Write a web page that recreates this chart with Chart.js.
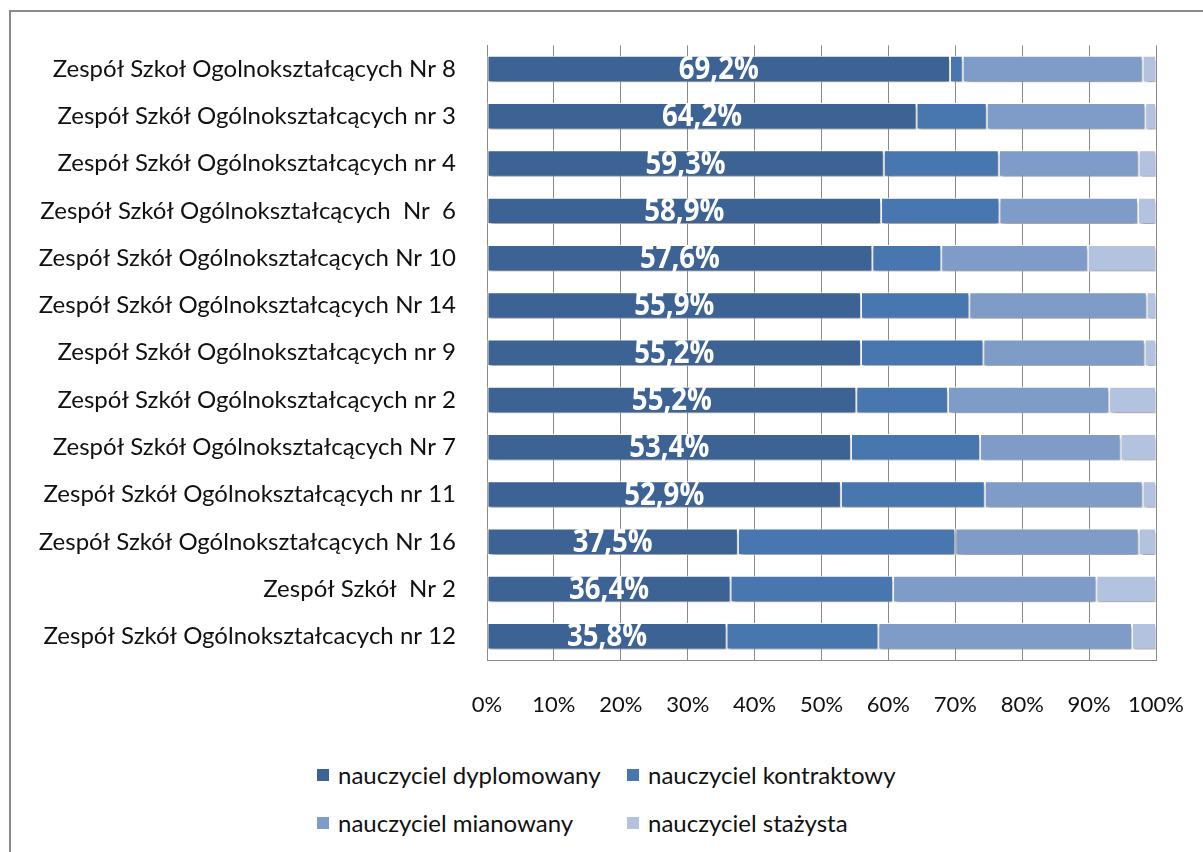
<!DOCTYPE html>
<html>
<head>
<meta charset="utf-8">
<script src="https://cdn.jsdelivr.net/npm/chart.js@4"></script>
<style>
  html, body { margin: 0; padding: 0; background: #fff; }
  body { width: 1203px; height: 852px; position: relative; overflow: hidden; font-family: Lato, sans-serif; }
  #ramka { position: absolute; left: 9px; top: 10px; width: 1300px; height: 1000px; border-left: 2px solid #8a8a8a; border-top: 2px solid #8a8a8a; }
  #wrap { position: absolute; left: 0; top: 0; width: 1216px; height: 730px; }
  #legenda { position: absolute; left: 317px; top: 760px; display: grid; grid-template-columns: 310px 300px; row-gap: 19px; font-size: 24px; color: #111; }
  #legenda div { display: flex; align-items: center; white-space: nowrap; }
  #legenda span.kw { display: inline-block; width: 12px; height: 12px; margin-right: 9px; }
</style>
</head>
<body>
<div id="ramka"></div>
<div id="wrap"><canvas id="chart"></canvas></div>
<div id="legenda"></div>
<script>
var szkoly = [
  'Zespół Szkoł Ogolnokształcących Nr 8',
  'Zespół Szkół Ogólnokształcących nr 3',
  'Zespół Szkół Ogólnokształcących nr 4',
  'Zespół Szkół Ogólnokształcących  Nr  6',
  'Zespół Szkół Ogólnokształcących Nr 10',
  'Zespół Szkół Ogólnokształcących Nr 14',
  'Zespół Szkół Ogólnokształcących nr 9',
  'Zespół Szkół Ogólnokształcących nr 2',
  'Zespół Szkół Ogólnokształcących Nr 7',
  'Zespół Szkół Ogólnokształcących nr 11',
  'Zespół Szkół Ogólnokształcących Nr 16',
  'Zespół Szkół  Nr 2',
  'Zespół Szkół Ogólnokształcacych nr 12'
];
var dyplomowany = [69.2, 64.2, 59.3, 58.9, 57.6, 55.9, 55.9, 55.2, 54.4, 52.9, 37.5, 36.4, 35.8];
var kontraktowy = [1.9, 10.5, 17.2, 17.7, 10.3, 16.2, 18.3, 13.7, 19.3, 21.5, 32.5, 24.3, 22.7];
var mianowany   = [26.9, 23.7, 20.9, 20.7, 21.9, 26.5, 24.1, 24.1, 21.0, 23.6, 27.4, 30.4, 37.9];
var stazysta    = [2.0, 1.6, 2.6, 2.7, 10.2, 1.4, 1.7, 7.0, 5.3, 2.0, 2.6, 8.9, 3.6];
// napisy na slupkach (tak jak na oryginale)
var etykiety = ['69,2%', '64,2%', '59,3%', '58,9%', '57,6%', '55,9%', '55,2%', '55,2%', '53,4%', '52,9%', '37,5%', '36,4%', '35,8%'];
var nazwySerii = ['nauczyciel dyplomowany', 'nauczyciel kontraktowy', 'nauczyciel mianowany', 'nauczyciel stażysta'];
var kolory = ['#3d6395', '#4877b0', '#7f9cc8', '#b3c2df'];

var serie = [dyplomowany, kontraktowy, mianowany, stazysta];

var cieniIEtykiety = {
  id: 'cieniIEtykiety',
  beforeDatasetsDraw: function (chart) {
    var ctx = chart.ctx;
    ctx.save();
    ctx.shadowColor = 'rgba(0,0,0,0.35)';
    ctx.shadowOffsetY = 3;
    ctx.shadowOffsetX = 1;
    ctx.shadowBlur = 3;
  },
  afterDatasetsDraw: function (chart) {
    var ctx = chart.ctx;
    ctx.restore();
    var meta = chart.getDatasetMeta(0);
    meta.data.forEach(function (el, i) {
      ctx.save();
      ctx.fillStyle = '#fff';
      ctx.font = 'bold 30px "Open Sans", sans-serif';
      ctx.textAlign = 'center';
      ctx.textBaseline = 'middle';
      ctx.translate((el.x + el.base) / 2, el.y + 1);
      ctx.scale(0.92, 1.05);
      ctx.fillText(etykiety[i], 0, 0);
      ctx.restore();
    });
  }
};

var ctx = document.getElementById('chart').getContext('2d');
var chart = new Chart(ctx, {
  type: 'bar',
  data: {
    labels: szkoly,
    datasets: serie.map(function (s, i) {
      return {
        label: nazwySerii[i],
        data: s,
        backgroundColor: kolory[i],
        borderColor: '#ffffff',
        borderWidth: 1,
        borderSkipped: false,
        categoryPercentage: 1,
        barPercentage: 0.56
      };
    })
  },
  options: {
    indexAxis: 'y',
    responsive: true,
    maintainAspectRatio: false,
    animation: false,
    layout: { padding: { left: 0, right: 30, top: 40, bottom: 0 } },
    scales: {
      x: {
        stacked: true,
        min: 0,
        max: 100,
        ticks: {
          stepSize: 10,
          color: '#111',
          padding: 32,
          font: { family: 'Lato', size: 22 },
          callback: function (v) { return v + '%'; }
        },
        grid: { color: '#8a8a8a', lineWidth: 1, drawTicks: false },
        border: { color: '#8a8a8a', width: 1 },
        afterFit: function (scale) { scale.height = 70; }
      },
      y: {
        stacked: true,
        ticks: {
          color: '#111',
          padding: 31,
          autoSkip: false,
          font: { family: 'Lato', size: 24 }
        },
        grid: { display: false, drawTicks: false },
        border: { color: '#8a8a8a', width: 1 },
        afterFit: function (scale) { scale.width = 487; }
      }
    },
    plugins: {
      legend: { display: false },
      tooltip: { enabled: false }
    }
  },
  plugins: [cieniIEtykiety]
});

var leg = document.getElementById('legenda');
nazwySerii.forEach(function (n, i) {
  var d = document.createElement('div');
  d.innerHTML = '<span class="kw" style="background:' + kolory[i] + '"></span>' + n;
  leg.appendChild(d);
});
</script>
</body>
</html>
